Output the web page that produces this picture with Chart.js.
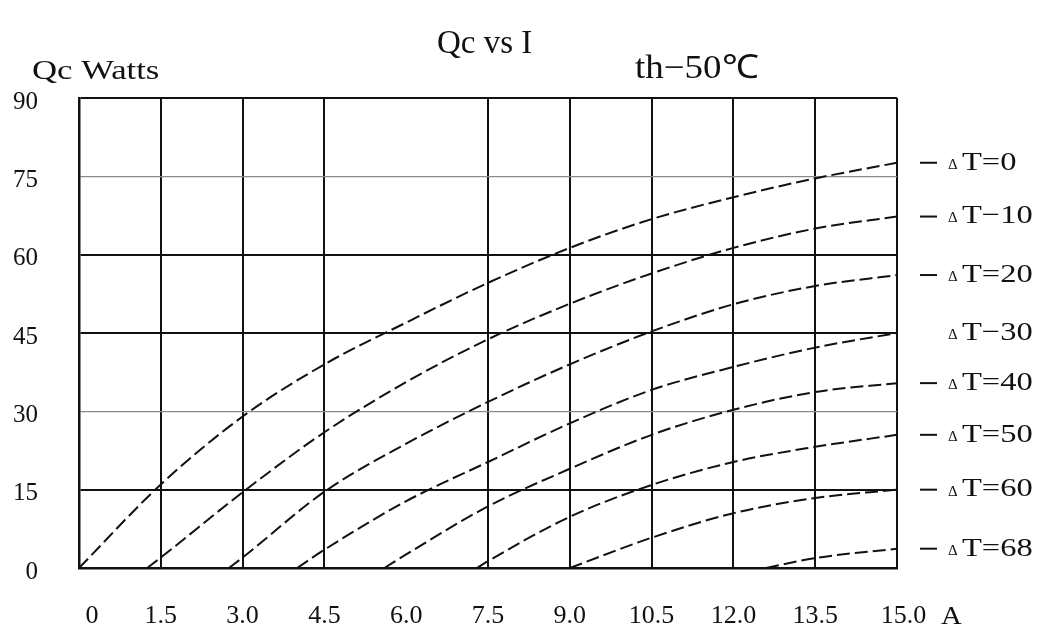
<!DOCTYPE html>
<html>
<head>
<meta charset="utf-8">
<script src="https://cdn.jsdelivr.net/npm/chart.js@4.4.1/dist/chart.umd.min.js"></script>
<style>
  html, body { margin: 0; padding: 0; background: #fff; }
  #wrap { width: 1042px; height: 641px; }
</style>
</head>
<body>
<div id="wrap"><canvas id="qcChart" width="1042" height="641"></canvas></div>
<script>
// Current (A) at each grid column
const currentTicks = [0, 1.5, 3.0, 4.5, 6.0, 7.5, 9.0, 10.5, 12.0, 13.5, 15.0];
const curveLabels = ['T=0', 'T\u221210', 'T=20', 'T\u221230', 'T=40', 'T=50', 'T=60', 'T=68'];
// current where each curve leaves Qc = 0
const startCurrent = [0, 1.25, 2.75, 4.0, 5.6, 7.3, 9.0, 12.6];
// Qc (W) read at each current tick, null before the curve starts
const qcDT0  = [0, 16, 29, 39, 47, 54.6, 61.3, 66.8, 71, 74.6, 77.6];
const qcDT10 = [null, 2, 14.5, 26, 35.6, 43.8, 50.6, 56.4, 61.3, 65, 67.3];
const qcDT20 = [null, null, 2, 14.6, 23.8, 31.8, 39, 45.3, 50.5, 54, 56.1];
const qcDT30 = [null, null, null, 3.5, 12.8, 20.3, 27.7, 34.1, 38.5, 42.2, 45];
const qcDT40 = [null, null, null, null, 2.6, 11.8, 19, 25.5, 30.3, 33.7, 35.4];
const qcDT50 = [null, null, null, null, null, 1.3, 9.8, 15.9, 20.3, 23.2, 25.5];
const qcDT60 = [null, null, null, null, null, null, null, 5.8, 10.5, 13.4, 15];
const qcDT68 = [null, null, null, null, null, null, null, null, null, 1.9, 3.7];
const allSeries = [qcDT0, qcDT10, qcDT20, qcDT30, qcDT40, qcDT50, qcDT60, qcDT68];

const serif = '"Liberation Serif", "Times New Roman", serif';

function buildPoints(start, values) {
    const pts = [{ x: start, y: 0 }];
    currentTicks.forEach((c, i) => {
        if (c > start && values[i] !== null) pts.push({ x: c, y: values[i] });
    });
    return pts;
}

// text in the scan is a bit wider than Liberation Serif, so stretch it
function wideText(c, text, x, y, size, sx) {
    c.save();
    c.translate(x, y);
    c.scale(sx, 1);
    c.font = size + 'px ' + serif;
    c.fillText(text, 0, 0);
    c.restore();
}

// Titles, unit and curve labels
const annotate = {
    id: 'annotate',
    afterDraw(chart) {
        const c = chart.ctx;
        const area = chart.chartArea;
        c.save();
        c.fillStyle = '#111';
        c.textBaseline = 'alphabetic';
        c.textAlign = 'left';
        wideText(c, 'Qc vs I', 437, 53, 33, 1);
        wideText(c, 'Qc Watts', 32, 79, 28, 1.24);
        wideText(c, 'th\u221250\u2103', 635, 78, 33, 1.12);
        wideText(c, 'A', area.right + 44, 624, 25, 1.15);

        c.textBaseline = 'middle';
        c.strokeStyle = '#111';
        c.lineWidth = 2;
        chart.data.datasets.forEach((ds, i) => {
            const pts = chart.getDatasetMeta(i).data;
            const y = pts[pts.length - 1].y;
            if (i !== 3) {
                c.beginPath();
                c.moveTo(area.right + 23, y);
                c.lineTo(area.right + 40, y);
                c.stroke();
            }
            wideText(c, '\u0394', area.right + 51, y + 2, 15, 1);
            wideText(c, curveLabels[i], area.right + 65, y, 26, 1.25);
        });
        c.restore();
    }
};

const qcChart = new Chart(
    document.getElementById('qcChart'),
    {
        type: 'line',
        data: {
            datasets: allSeries.map((vals, i) => ({
                label: curveLabels[i],
                data: buildPoints(startCurrent[i], vals),
                borderColor: '#111',
                borderWidth: 2,
                borderDash: [13, 5],
                pointRadius: 0,
                fill: false,
                cubicInterpolationMode: 'monotone'
            }))
        },
        options: {
            responsive: false,
            animation: false,
            layout: {
                padding: { top: 98, right: 145, bottom: 0, left: 0 }
            },
            plugins: {
                legend: { display: false },
                tooltip: { enabled: false }
            },
            scales: {
                x: {
                    type: 'linear',
                    min: 0,
                    max: 15,
                    afterFit: (s) => { s.height = 73; },
                    grid: {
                        color: (ctx) => ctx.tick && ctx.tick.value === 6 ? 'rgba(0,0,0,0)' : '#111',
                        lineWidth: 2,
                        drawTicks: false
                    },
                    border: { color: '#111', width: 2.5 },
                    ticks: {
                        stepSize: 1.5,
                        padding: 33,
                        color: '#111',
                        font: { family: serif, size: 26 },
                        callback: (v) => v === 0 ? '    0' : (v === 15 ? '  15.0' : v.toFixed(1))
                    }
                },
                y: {
                    min: 0,
                    max: 90,
                    afterFit: (s) => { s.width = 79; },
                    grid: {
                        color: (ctx) => (ctx.tick && (ctx.tick.value === 75 || ctx.tick.value === 30)) ? '#8a8a8a' : '#111',
                        lineWidth: (ctx) => (ctx.tick && (ctx.tick.value === 75 || ctx.tick.value === 30)) ? 1.3 : 2,
                        drawTicks: false
                    },
                    border: { color: '#111', width: 2.5 },
                    ticks: {
                        stepSize: 15,
                        padding: 41,
                        labelOffset: 4,
                        color: '#111',
                        font: { family: serif, size: 25 }
                    }
                }
            }
        },
        plugins: [annotate]
    }
);
</script>
</body>
</html>
